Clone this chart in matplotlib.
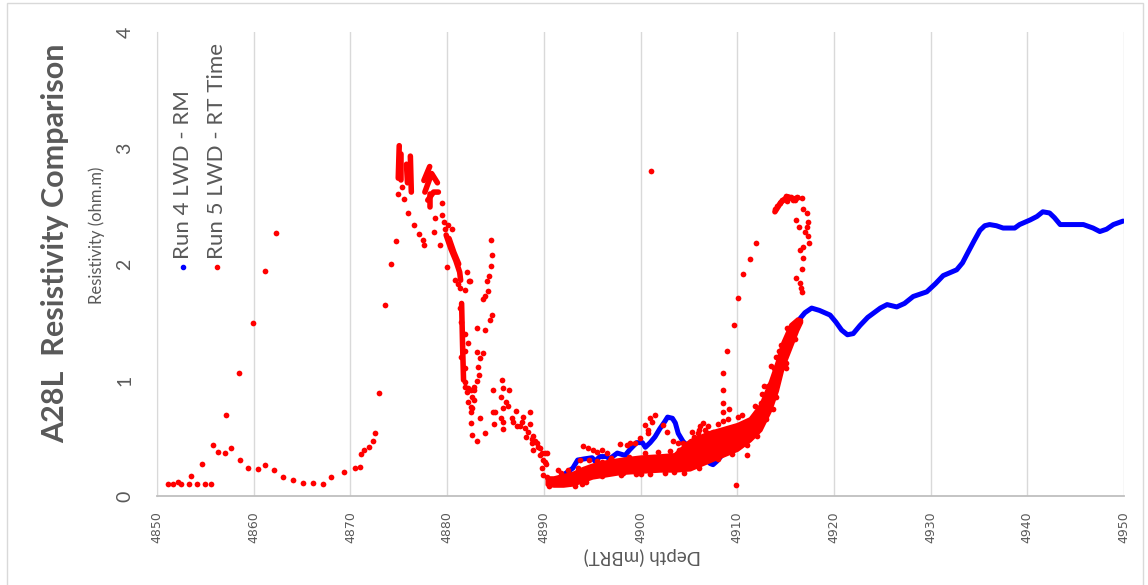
import matplotlib
matplotlib.use("Agg")
import matplotlib.pyplot as plt
from matplotlib.lines import Line2D
from matplotlib.patches import Rectangle

# Run 4 LWD - RM (continuous log, drawn as a dense trace)
run4_depth = [4891.0, 4892.0, 4893.0, 4893.5, 4894.2, 4895.0, 4895.3, 4895.8, 4896.5, 4896.8,
              4897.6, 4898.4, 4898.9, 4899.6, 4900.2, 4900.5, 4901.0, 4901.5, 4902.0, 4902.5,
              4902.8, 4903.3, 4903.6, 4903.9, 4904.4, 4904.9, 4905.4, 4906.5, 4907.2, 4907.5,
              4907.9, 4908.5, 4909.5, 4910.5, 4911.5, 4912.5, 4913.2, 4914.0, 4915.0, 4915.8,
              4916.5, 4917.0, 4917.7, 4918.5, 4919.6, 4920.2, 4920.8, 4921.4, 4922.0, 4922.7,
              4923.5, 4924.8, 4925.5, 4926.5, 4927.3, 4928.2, 4929.6, 4930.5, 4931.3, 4932.7,
              4933.3, 4933.8, 4934.5, 4935.1, 4935.6, 4936.1, 4936.8, 4937.5, 4938.7, 4939.2,
              4940.3, 4941.0, 4941.6, 4942.3, 4942.8, 4943.4, 4944.7, 4945.8, 4946.8, 4947.5,
              4948.2, 4948.9, 4949.9]
run4_res = [0.12, 0.18, 0.24, 0.31, 0.32, 0.33, 0.30, 0.34, 0.34, 0.32,
            0.37, 0.35, 0.40, 0.46, 0.46, 0.42, 0.46, 0.51, 0.58, 0.64,
            0.68, 0.67, 0.63, 0.54, 0.47, 0.43, 0.40, 0.34, 0.28, 0.27,
            0.30, 0.36, 0.42, 0.49, 0.60, 0.74, 0.88, 1.05, 1.28, 1.43,
            1.53, 1.58, 1.62, 1.60, 1.56, 1.50, 1.43, 1.39, 1.40, 1.47,
            1.54, 1.62, 1.65, 1.63, 1.66, 1.72, 1.76, 1.83, 1.90, 1.95,
            2.01, 2.09, 2.20, 2.29, 2.33, 2.34, 2.33, 2.31, 2.31, 2.34,
            2.38, 2.41, 2.45, 2.44, 2.40, 2.34, 2.34, 2.34, 2.31, 2.28,
            2.30, 2.34, 2.37]

# Run 5 LWD - RT Time: individual points
run5_depth = [
    4851.1, 4851.7, 4852.2, 4852.5, 4853.3, 4853.5, 4854.1, 4854.7, 4855.0, 4855.6,
    4855.8, 4856.3, 4857.0, 4857.1, 4857.7, 4858.5, 4858.6, 4859.4, 4859.9, 4860.4,
    4861.2, 4861.2, 4862.1, 4862.3, 4863.0, 4864.1, 4865.1, 4866.1, 4867.2, 4868.0,
    4869.3, 4870.5, 4871.0, 4871.1, 4871.4, 4871.9, 4872.3, 4872.5, 4873.0, 4873.6,
    4874.2, 4874.7, 4874.9,
    4875.3, 4875.5, 4876.0, 4876.6, 4877.1, 4877.5, 4877.6, 4878.7, 4878.6, 4879.3,
    4879.5, 4879.5, 4879.7, 4879.8, 4880.1, 4880.5,
    4880.0, 4882.1, 4882.4, 4880.8, 4881.1, 4881.3, 4881.8, 4882.3,
    4882.2, 4883.1, 4883.9, 4884.6, 4884.4,
    4883.1, 4883.7, 4883.4, 4883.2, 4883.3, 4883.1,
    4882.2, 4882.5, 4882.8, 4882.1, 4882.8, 4882.6, 4882.8, 4882.2, 4882.5, 4882.6,
    4882.5, 4883.4, 4882.5, 4882.6, 4883.1, 4883.9, 4881.9,
    4884.5, 4884.6, 4884.5, 4884.3, 4884.1, 4884.2, 4883.9, 4883.7,
    4885.7, 4885.8, 4884.7, 4886.4, 4885.6, 4886.1, 4886.3, 4885.8, 4884.7, 4885.0,
    4885.6, 4885.8, 4884.9, 4885.8, 4887.1, 4886.7, 4886.8, 4887.2, 4887.7, 4887.5,
    4887.9, 4888.6, 4888.1, 4888.6, 4888.4, 4888.2, 4888.8, 4888.9, 4889.1, 4889.3,
    4888.8, 4889.4, 4889.6, 4888.9, 4889.8, 4890.1, 4890.3, 4889.6, 4890.2, 4889.8,
    4889.9, 4890.3, 4890.1, 4889.9,
    4881.4, 4881.8, 4881.4, 4881.8, 4881.9, 4881.3, 4881.9,
    4894.1, 4894.6, 4895.1, 4895.5, 4896.0, 4896.5, 4897.9, 4898.6, 4898.9, 4899.4,
    4899.9, 4900.5, 4900.8, 4901.0, 4901.5, 4901.2, 4900.8, 4902.3, 4902.7, 4903.4,
    4903.9, 4904.4, 4906.2, 4906.5, 4906.9, 4905.9,
    4901.1, 4909.9,
    4893.7, 4894.7, 4896.0, 4896.8, 4897.3, 4898.2, 4899.5, 4901.0, 4902.5, 4903.0,
    4904.5, 4891.5, 4892.3, 4890.5, 4893.2, 4894.0, 4894.4,
    4891.8, 4892.5, 4893.5, 4895.5, 4897.0, 4898.8, 4900.5, 4901.8, 4903.0, 4904.0,
    4904.8, 4905.3, 4906.0, 4907.0, 4908.0, 4909.0, 4910.5, 4911.8, 4912.8, 4913.8,
    4914.5, 4915.2, 4896.0, 4898.0, 4900.0, 4903.5, 4906.0, 4908.0, 4909.5, 4911.0,
    4912.0, 4913.0, 4914.0, 4915.0, 4916.0,
    4905.5, 4906.7, 4907.5, 4908.5, 4909.2, 4908.5, 4908.5, 4908.5, 4908.5, 4908.9,
    4909.7, 4910.1, 4910.6, 4911.3, 4911.9, 4910.1, 4912.5, 4912.6, 4913.0, 4913.2,
    4913.5, 4914.0, 4914.3, 4911.0, 4913.7, 4915.0,
    4913.9, 4914.1, 4914.4, 4915.0, 4915.4, 4915.2, 4916.2, 4916.7, 4916.8, 4917.2,
    4917.3, 4916.1, 4916.4, 4917.2, 4917.0, 4917.3, 4917.4, 4916.8, 4916.5, 4916.8,
    4916.7, 4916.1, 4916.5, 4916.6, 4916.7, 4915.8, 4915.6, 4916.0, 4914.6]
run5_res = [
    0.10, 0.10, 0.12, 0.10, 0.10, 0.17, 0.10, 0.28, 0.10, 0.10,
    0.44, 0.38, 0.37, 0.70, 0.41, 1.06, 0.31, 0.24, 1.49, 0.23,
    0.27, 1.94, 0.22, 2.27, 0.16, 0.14, 0.11, 0.11, 0.10, 0.16,
    0.21, 0.24, 0.25, 0.36, 0.40, 0.42, 0.47, 0.54, 0.89, 1.65,
    2.00, 2.20, 2.60,
    2.66, 2.56, 2.44, 2.34, 2.26, 2.21, 2.16, 2.40, 2.28, 2.16,
    2.53, 2.42, 2.36, 2.30, 2.34, 2.30,
    1.97, 1.93, 1.85, 1.86, 1.83, 1.79, 1.78, 1.85,
    1.32, 1.45, 1.43, 1.56, 1.52,
    1.24, 1.23, 1.19, 1.11, 1.04, 0.99,
    0.93, 0.91, 0.91, 0.90, 0.94, 0.85, 0.83, 0.81, 0.77, 0.76,
    0.72, 0.67, 0.63, 0.53, 0.47, 0.54, 0.94,
    2.21, 2.08, 1.98, 1.90, 1.85, 1.77, 1.72, 1.70,
    1.00, 0.93, 0.91, 0.91, 0.85, 0.81, 0.78, 0.76, 0.72, 0.72,
    0.67, 0.64, 0.62, 0.58, 0.73, 0.67, 0.64, 0.60, 0.64, 0.60,
    0.68, 0.72, 0.59, 0.62, 0.55, 0.51, 0.49, 0.52, 0.47, 0.46,
    0.46, 0.42, 0.41, 0.40, 0.37, 0.37, 0.37, 0.35, 0.28, 0.24,
    0.18, 0.16, 0.29, 0.31,
    1.50, 1.40, 1.20, 1.10, 0.98, 1.62, 1.25,
    0.43, 0.41, 0.40, 0.38, 0.40, 0.37, 0.45, 0.44, 0.46, 0.46,
    0.50, 0.61, 0.57, 0.67, 0.70, 0.64, 0.54, 0.61, 0.55, 0.47,
    0.46, 0.46, 0.60, 0.63, 0.54, 0.54,
    2.80, 0.095,
    0.31, 0.31, 0.29, 0.31, 0.28, 0.20, 0.19, 0.19, 0.20, 0.24,
    0.20, 0.22, 0.16, 0.09, 0.09, 0.10, 0.12,
    0.20, 0.22, 0.24, 0.30, 0.33, 0.34, 0.37, 0.38, 0.39, 0.40,
    0.45, 0.55, 0.57, 0.60, 0.62, 0.66, 0.70, 0.78, 0.95, 1.10,
    1.30, 1.45, 0.17, 0.18, 0.19, 0.21, 0.24, 0.32, 0.36, 0.44,
    0.52, 0.66, 0.85, 1.10, 1.35,
    0.51, 0.57, 0.55, 0.65, 0.75, 0.72, 0.80, 0.91, 1.06, 1.25,
    1.47, 1.71, 1.91, 2.04, 2.18, 0.68, 0.80, 0.88, 0.87, 0.95,
    1.12, 1.20, 1.25, 0.35, 0.75, 1.15,
    2.47, 2.50, 2.53, 2.59, 2.58, 2.54, 2.58, 2.57, 2.47, 2.44,
    2.36, 2.38, 2.32, 2.32, 2.28, 2.24, 2.18, 2.15, 2.12, 2.05,
    1.96, 1.88, 1.84, 1.79, 1.76, 2.55, 2.58, 2.55, 2.55]

# Run 5: dense clusters where the points merge into solid streaks
run5_streaks = [
    ([4874.95, 4875.05], [2.74, 3.02]),
    ([4875.25, 4875.25], [2.72, 2.95]),
    ([4876.2, 4876.3], [2.93, 2.62]),
    ([4875.8, 4875.9], [2.86, 2.70]),
    ([4877.6, 4878.2], [2.72, 2.84]),
    ([4877.7, 4878.4, 4879.0], [2.62, 2.78, 2.70]),
    ([4878.0, 4878.6, 4879.1], [2.55, 2.62, 2.62]),
    ([4878.2, 4878.2], [2.49, 2.60]),
    ([4879.9, 4880.4, 4880.9, 4881.3, 4881.4], [2.25, 2.13, 2.03, 1.93, 1.86]),
    ([4880.2, 4880.7, 4881.2], [2.22, 2.10, 2.00]),
    ([4881.5, 4881.6, 4881.7], [1.66, 1.30, 1.00]),
    ([4913.9, 4914.5, 4915.2, 4915.8, 4916.3], [2.45, 2.53, 2.58, 2.56, 2.57]),
]

# Run 5: envelope of the dense band between 4890 and 4917 m
band_depth = [4890.3, 4891.0, 4892.0, 4893.0, 4894.0, 4895.0, 4896.5, 4898.0, 4900.0, 4902.0,
              4903.5, 4905.1, 4907.1, 4910.0, 4911.3, 4912.4, 4913.4, 4914.1, 4914.7, 4915.5,
              4916.2, 4916.6]
band_lo = [0.10, 0.09, 0.09, 0.10, 0.13, 0.16, 0.18, 0.20, 0.21, 0.22,
           0.22, 0.23, 0.30, 0.40, 0.48, 0.57, 0.74, 0.91, 1.11, 1.28,
           1.43, 1.50]
band_hi = [0.16, 0.16, 0.18, 0.20, 0.24, 0.27, 0.30, 0.32, 0.34, 0.35,
           0.36, 0.48, 0.55, 0.62, 0.67, 0.79, 0.99, 1.16, 1.33, 1.48,
           1.53, 1.52]

x_ticks = [4850, 4860, 4870, 4880, 4890, 4900, 4910, 4920, 4930, 4940, 4950]
y_ticks = [0, 1, 2, 3, 4]

W, H = 1148, 585
GREY = '#595959'
RED = '#ff0000'
BLUE = '#0000ff'


def fx(px):
    return px / W


def fy(py):
    return 1 - py / H


fig = plt.figure(figsize=(W / 100, H / 100), dpi=100)
ax = fig.add_axes([fx(157), fy(496), fx(1124) - fx(157), fy(32) - fy(496)])

ax.plot(run4_depth, run4_res, color=BLUE, lw=3.6, solid_capstyle='round',
        solid_joinstyle='round', zorder=2)

ax.fill_between(band_depth, band_lo, band_hi, color=RED, lw=2.5,
                edgecolor=RED, joinstyle='round', zorder=3)
for sx, sy in run5_streaks:
    ax.plot(sx, sy, color=RED, lw=4.0, solid_capstyle='round',
            solid_joinstyle='round', zorder=3)
ax.scatter(run5_depth, run5_res, s=17, color=RED, linewidths=0, zorder=4)

ax.set_xlim(4850, 4950)
ax.set_ylim(0, 4)
ax.set_xticks(x_ticks)
ax.set_yticks(y_ticks)
ax.set_xticklabels([str(t) for t in x_ticks], rotation=90, fontsize=9,
                   color=GREY, family='DejaVu Sans')
ax.set_yticklabels([str(t) for t in y_ticks], rotation=90, fontsize=14,
                   color=GREY, family='Lato', va='center')
ax.tick_params(axis='x', length=0, pad=11)
ax.tick_params(axis='y', length=0, pad=17)
ax.grid(axis='x', color='#d9d9d9', lw=1)
ax.set_axisbelow(True)
for s in ['top', 'right']:
    ax.spines[s].set_visible(False)
ax.spines['left'].set_color('#d9d9d9')
ax.spines['bottom'].set_color('#bfbfbf')
ax.spines['bottom'].set_linewidth(1.3)

fig.text(fx(55), fy(243), 'A28L  Resistivity Comparison', rotation=90,
         fontsize=22, fontweight='bold', family='Lato', color=GREY,
         ha='center', va='center')
fig.text(fx(97), fy(235), 'Resistivity (ohm.m)', rotation=90, fontsize=12,
         family='Lato', color=GREY, ha='center', va='center')
fig.text(fx(642), fy(556), 'Depth (mBRT)', rotation=180, fontsize=13.5,
         family='Lato', color=GREY, ha='center', va='center')

# legend drawn by hand so that its text can be rotated like the rest
for xpx, col, label in [(183, BLUE, 'Run 4 LWD - RM'), (217, RED, 'Run 5 LWD - RT Time')]:
    fig.add_artist(Line2D([fx(xpx)], [fy(267)], marker='o', markersize=3,
                          color=col, lw=0, transform=fig.transFigure))
    fig.text(fx(xpx), fy(259), label, rotation=90, fontsize=16, family='Lato',
             color=GREY, ha='center', va='bottom')

fig.add_artist(Rectangle((fx(7), fy(H + 20)), fx(1143) - fx(7), fy(3) - fy(H + 20),
                         transform=fig.transFigure, fill=False,
                         edgecolor='#d9d9d9', lw=1))

plt.savefig('out.png', dpi=100)
